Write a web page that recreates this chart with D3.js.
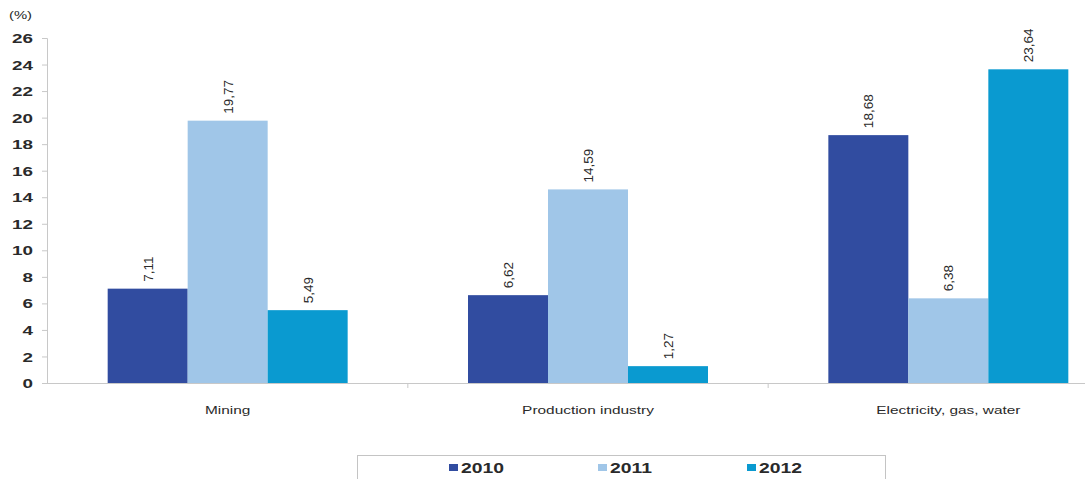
<!DOCTYPE html>
<html>
<head>
<meta charset="utf-8">
<script src="https://cdn.jsdelivr.net/npm/d3@7"></script>
<style>
  html, body { margin: 0; padding: 0; background: #fff; }
  svg { display: block; }
</style>
</head>
<body>
<svg id="chart" width="1085" height="479"></svg>
<script>
const categories = ["Mining", "Production industry", "Electricity, gas, water"];
const years = ["2010", "2011", "2012"];
const values2010 = [7.11, 6.62, 18.68];
const values2011 = [19.77, 14.59, 6.38];
const values2012 = [5.49, 1.27, 23.64];
const yTicks = [0, 2, 4, 6, 8, 10, 12, 14, 16, 18, 20, 22, 24, 26];
const colors = ["#314ca0", "#a0c6e8", "#0a9ad0"];

const seriesValues = [values2010, values2011, values2012];
const data = categories.map((c, i) => ({
  category: c,
  values: years.map((y, j) => ({ year: y, value: seriesValues[j][i], color: colors[j] }))
}));

const svg = d3.select("#chart");
const fmt = d3.formatLocale({ decimal: ",", thousands: ".", grouping: [3], currency: ["", ""] }).format(".2f");

const x0 = d3.scaleBand().domain(categories).range([47.5, 1128.5]).paddingInner(0.334).paddingOuter(0.167);
const x1 = d3.scaleBand().domain(years).range([0, x0.bandwidth()]);
const y = d3.scaleLinear().domain([0, 26]).range([383, 38]);

// y axis
const yAxis = svg.append("g").attr("transform", "translate(47,0)")
  .call(d3.axisLeft(y).tickValues(yTicks).tickSize(5).tickPadding(9));
yAxis.select(".domain").attr("stroke", "#c8c8c8");
yAxis.selectAll(".tick line").attr("stroke", "#c8c8c8");
yAxis.selectAll(".tick text")
  .attr("fill", "#2a2a2a")
  .attr("font-family", "Liberation Sans, Arial, sans-serif")
  .attr("font-weight", "bold")
  .attr("font-size", 13)
  .attr("text-anchor", "end")
  .attr("dy", "0.35em")
  .attr("transform", "scale(1,1)")
  .each(function () {
    const t = d3.select(this);
    const xx = +t.attr("x");
    t.attr("x", 0).attr("transform", `translate(${xx},0) scale(1.45,1)`);
  });

// unit label
svg.append("text")
  .attr("x", 0).attr("y", 0)
  .attr("transform", "translate(9,19) scale(1.35,1)")
  .attr("font-family", "Liberation Sans, Arial, sans-serif")
  .attr("font-size", 11)
  .attr("fill", "#2a2a2a")
  .text("(%)");

// x baseline with small ticks at band boundaries
const xAxis = svg.append("g").attr("transform", `translate(0,${y(0)})`)
  .call(d3.axisBottom(x0).tickSize(0).tickFormat(""));
xAxis.select(".domain").remove();
xAxis.append("line").attr("x1", 47).attr("x2", 1085).attr("y1", 0.5).attr("y2", 0.5).attr("stroke", "#c8c8c8");
const bounds = categories.slice(1).map(c => x0(c) - x0.step() * x0.paddingInner() / 2);
xAxis.selectAll(".bnd").data(bounds).join("line")
  .attr("class", "bnd")
  .attr("x1", d => d).attr("x2", d => d).attr("y1", 0).attr("y2", 5)
  .attr("stroke", "#c8c8c8");

// category labels
svg.append("g").selectAll("text").data(categories).join("text")
  .attr("transform", d => `translate(${x0(d) + x0.bandwidth() / 2},414) scale(1.4,1)`)
  .attr("text-anchor", "middle")
  .attr("font-family", "Liberation Sans, Arial, sans-serif")
  .attr("font-size", 11)
  .attr("fill", "#2a2a2a")
  .text(d => d);

// bars
const groups = svg.append("g").selectAll("g").data(data).join("g")
  .attr("transform", d => `translate(${x0(d.category)},0)`);
groups.selectAll("rect").data(d => d.values).join("rect")
  .attr("x", d => x1(d.year))
  .attr("y", d => y(d.value))
  .attr("width", x1.bandwidth())
  .attr("height", d => y(0) - y(d.value))
  .attr("fill", d => d.color);

// value labels (rotated)
groups.selectAll("text").data(d => d.values).join("text")
  .attr("transform", d => `translate(${x1(d.year) + x1.bandwidth() / 2 + 5},${y(d.value) - 7}) rotate(-90)`)
  .attr("text-anchor", "start")
  .attr("font-family", "Liberation Sans, Arial, sans-serif")
  .attr("font-size", 13.5)
  .attr("fill", "#2a2a2a")
  .text(d => fmt(d.value));

// legend
const legend = svg.append("g");
legend.append("rect")
  .attr("x", 357.5).attr("y", 455.5).attr("width", 528).attr("height", 34)
  .attr("fill", "#fff").attr("stroke", "#c4c4c4");
const legX = d3.scalePoint().domain(years).range([449, 747]);
const li = legend.selectAll("g.item").data(years).join("g").attr("class", "item")
  .attr("transform", d => `translate(${legX(d)},0)`);
li.append("rect")
  .attr("x", 0).attr("y", 464).attr("width", 9).attr("height", 7)
  .attr("fill", (d, i) => colors[i]);
li.append("text")
  .attr("transform", "translate(12,472.5) scale(1.38,1)")
  .attr("font-family", "Liberation Sans, Arial, sans-serif")
  .attr("font-weight", "bold")
  .attr("font-size", 14)
  .attr("fill", "#2a2a2a")
  .text(d => d);
</script>
</body>
</html>
